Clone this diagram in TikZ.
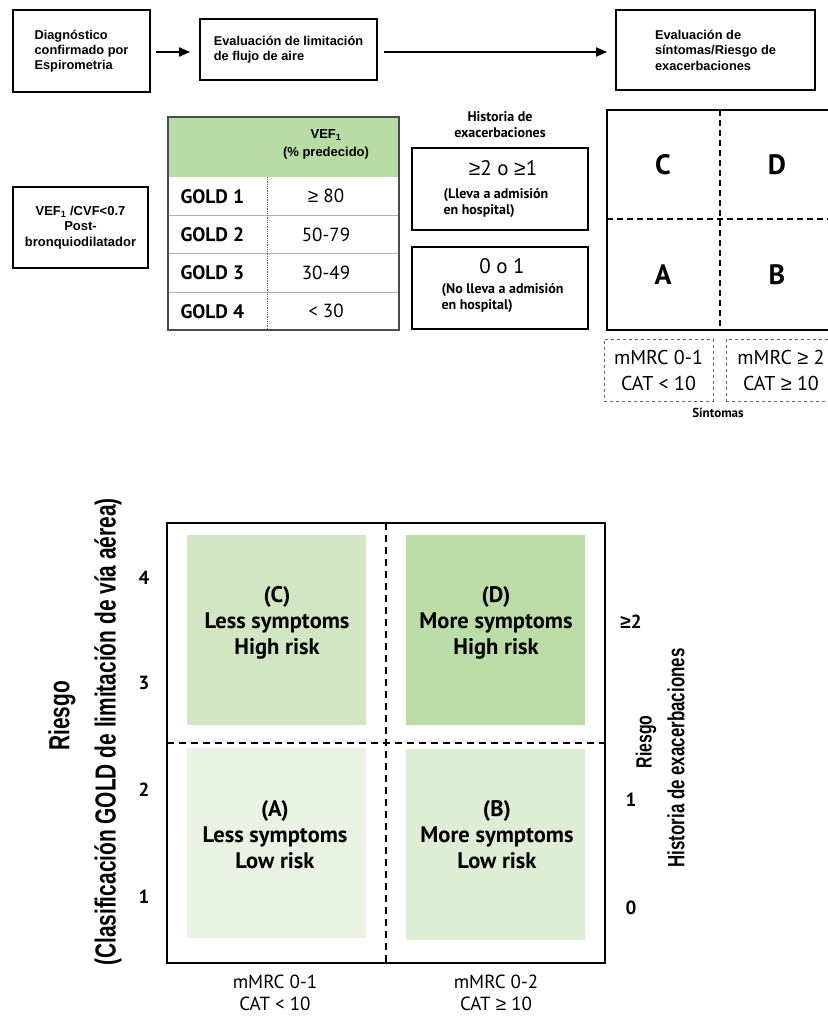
\documentclass[tikz,border=0pt]{standalone}
\usepackage{fontspec}
\setmainfont{Liberation Sans}
\newfontfamily\dinfont{PT Sans}
\newfontfamily\arialfont{Liberation Sans}
\newfontfamily\condfont[FakeStretch=0.72]{Liberation Sans}
\newcommand{\gesym}{{\arialfont ≥}}
\usetikzlibrary{positioning,arrows.meta}

\definecolor{headgreen}{HTML}{B9DCA4}
\definecolor{quadA}{HTML}{EAF3E3}
\definecolor{quadB}{HTML}{DFEDD5}
\definecolor{quadC}{HTML}{D3E6C4}
\definecolor{quadD}{HTML}{BCDDA8}

\tikzset{
  flowbox/.style={draw, line width=1.8pt, align=left, font=\fontsize{12.8}{15}\selectfont\bfseries},
  histbox/.style={draw, line width=1.8pt, minimum width=176pt, minimum height=82pt},
  flowarrow/.style={-{Triangle[length=11pt,width=9pt]}, line width=1.8pt},
  quadtext/.style={align=center, font=\dinfont\fontsize{22.5}{26}\selectfont\bfseries},
  ticklabel/.style={font=\dinfont\fontsize{19}{20}\selectfont\bfseries},
  symbox/.style={draw=gray!80!black, dashed, line width=0.8pt, minimum width=109pt, minimum height=62pt,
    align=center, text=black, font=\dinfont\fontsize{20}{26}\selectfont}
}

\begin{document}
\begin{tikzpicture}[x=1pt, y=-1pt]
  \useasboundingbox (0,0) rectangle (827,1017);

  % Top flow
  \node[flowbox, minimum width=137pt, minimum height=82pt] (diag) at (81.5,51)
    {Diagnóstico\\confirmado por\\Espirometria};
  \node[flowbox, minimum width=177pt, minimum height=61pt] (flujo) at (288.5,49.5)
    {Evaluación de limitación\\de flujo de aire};
  \node[flowbox, minimum width=199pt, minimum height=80pt, font=\fontsize{12.8}{15.5}\selectfont\bfseries] (sint) at (715.5,50)
    {Evaluación de\\síntomas/Riesgo de\\exacerbaciones};
  \draw[flowarrow, shorten <=5pt, shorten >=9pt] (diag.east |- 0,52) -- (flujo.west |- 0,52);
  \draw[flowarrow, shorten <=6pt, shorten >=8pt] (flujo.east |- 0,52) -- (sint.west |- 0,52);

  % Espirometria
  \node[draw, line width=1.8pt, minimum width=135pt, minimum height=81pt, align=center,
    font=\fontsize{13}{15.5}\selectfont\bfseries] (vef) at (80.5,227.5)
    {VEF\textsubscript{1} /CVF<0.7\\Post-\\bronquiodilatador};

  % GOLD table
  \fill[headgreen] (168,117) rectangle (399,177);
  \foreach \y in {215,253,292}
    \draw[gray!60, line width=1pt] (168,\y) -- (399,\y);
  \draw[black!70, line width=1.2pt] (168,117) rectangle (399,330);
  \draw[black!60, densely dotted, line width=0.8pt] (267,177) -- (267,330);
  \node[align=center, font=\fontsize{13}{18}\selectfont\bfseries] (vefhead) at (326,144)
    {VEF\textsubscript{1}\\(\% predecido)};
  \foreach \g/\val [count=\i] in {1/{\gesym\ 80},2/50-79,3/30-49,4/{< 30}} {
    \node[anchor=west, font=\dinfont\fontsize{19.5}{20}\selectfont\bfseries] (gold\i) at (177,158+38.3*\i) {GOLD \g};
    \node[font=\dinfont\fontsize{19}{20}\selectfont] (gval\i) at (326,158+38.3*\i) {\val};
  }

  % Historia de exacerbaciones
  \node[align=center, font=\dinfont\fontsize{14}{16}\selectfont\bfseries] (histtitle) at (500,125)
    {Historia de\\exacerbaciones};
  \node[histbox] (hist2) at (500,189) {};
  \node[histbox] (hist0) at (500,288) {};
  \node[font=\dinfont\fontsize{21}{22}\selectfont] (hist2num) at (503,168) {\gesym2 o \gesym1};
  \node[align=left, anchor=north west, font=\dinfont\fontsize{14}{16}\selectfont\bfseries] (hist2txt) at (440,185)
    {(Lleva a admisión\\en hospital)};
  \node[font=\dinfont\fontsize{21}{22}\selectfont] (hist0num) at (502,266) {0 o 1};
  \node[align=left, anchor=north west, font=\dinfont\fontsize{14}{16}\selectfont\bfseries] (hist0txt) at (438,280)
    {(No lleva a admisión\\en hospital)};

  % ABCD grid
  \draw[line width=1.8pt] (835,110) -| (607,330) -- (835,330);
  \draw[line width=1.8pt, dash pattern=on 6pt off 4pt] (720,110) -- (720,330);
  \draw[line width=1.8pt, dash pattern=on 6pt off 4pt] (607,219) -- (835,219);
  \foreach \l/\x/\y in {C/663/165, D/777/165, A/663/275, B/777/275}
    \node[font=\dinfont\fontsize{28}{30}\selectfont\bfseries] (cell\l) at (\x,\y) {\l};
  \node[symbox] (sym01) at (658.5,370) {mMRC 0-1\\CAT < 10};
  \node[symbox, minimum width=110pt] (sym2) at (781,370) {mMRC \gesym\ 2\\CAT \gesym\ 10};
  \node[font=\dinfont\fontsize{13}{14}\selectfont\bfseries] (sintlabel) at (718,413) {Síntomas};

  % Bottom grid
  \fill[quadC] (187,535) rectangle (366,725);
  \fill[quadD] (406,535) rectangle (585,725);
  \fill[quadA] (187,748) rectangle (366,938);
  \fill[quadB] (406,749) rectangle (585,940);
  \draw[line width=2pt] (167,523) rectangle (605,963);
  \draw[line width=2pt, dash pattern=on 7pt off 5pt] (386,523) -- (386,963);
  \draw[line width=2pt, dash pattern=on 7pt off 5pt] (167,743) -- (605,743);
  \node[quadtext] (qC) at (277,623) {(C)\\Less symptoms\\High risk};
  \node[quadtext] (qD) at (496,623) {(D)\\More symptoms\\High risk};
  \node[quadtext] (qA) at (275,835) {(A)\\Less symptoms\\Low risk};
  \node[quadtext] (qB) at (497,835) {(B)\\More symptoms\\Low risk};

  % Axis labels
  \foreach \n/\y in {4/578, 3/683, 2/790, 1/897}
    \node[ticklabel] (gtick\n) at (144,\y) {\n};
  \foreach \n/\y in {{\gesym2}/622, 1/800, 0/908}
    \node[ticklabel] at (631,\y) {\n};
  \node[rotate=90, font=\condfont\fontsize{29}{30}\selectfont\bfseries] (riesgoL) at (62,716) {Riesgo};
  \node[rotate=90, font=\condfont\fontsize{29}{30}\selectfont\bfseries] (goldL) at (108,732)
    {(Clasificación GOLD de limitación de vía aérea)};
  \node[rotate=90, font=\condfont\fontsize{22}{24}\selectfont\bfseries] (riesgoR) at (646,742) {Riesgo};
  \node[rotate=90, font=\condfont\fontsize{23.5}{25}\selectfont\bfseries] (histR) at (676,758)
    {Historia de exacerbaciones};
  \node[align=center, font=\dinfont\fontsize{19}{22}\selectfont] (xA) at (275,993) {mMRC 0-1\\CAT < 10};
  \node[align=center, font=\dinfont\fontsize{19}{22}\selectfont] (xB) at (496,993) {mMRC 0-2\\CAT \gesym\ 10};
\end{tikzpicture}
\end{document}
